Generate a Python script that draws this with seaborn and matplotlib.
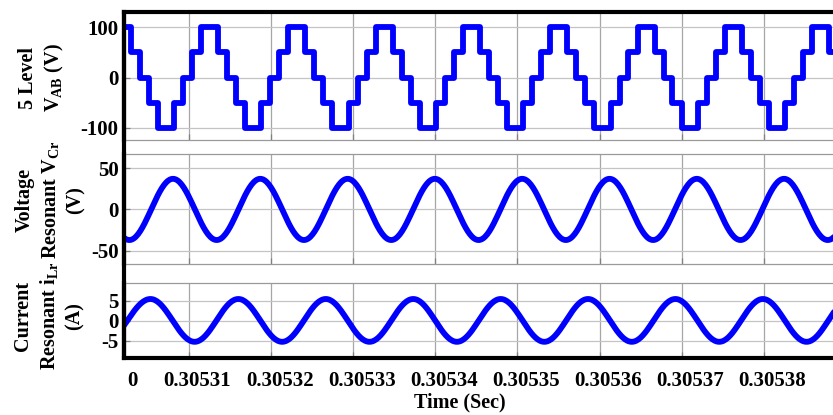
import numpy as np
import pandas as pd
import seaborn as sns
import matplotlib
matplotlib.use("Agg")
import matplotlib.pyplot as plt
from matplotlib.transforms import ScaledTranslation
from matplotlib.lines import Line2D

# ---------------- data (time in microseconds after 0.3053 s) ----------------
x_tick_pos = [2.08, 10, 20, 30, 40, 50, 60, 70, 80]
x_tick_labels = ["0", "0.30531", "0.30532", "0.30533", "0.30534",
                 "0.30535", "0.30536", "0.30537", "0.30538"]
x_limits = [2.08, 88.44]

# 5-level inverter voltage: switching instants and the level after each one
vab_times = [2.00, 2.90, 4.00, 5.09, 6.19,
             8.17, 9.27, 10.37, 11.46, 13.53, 14.63, 15.73, 16.82,
             18.81, 19.90, 21.00, 22.10, 24.17, 25.26, 26.36, 27.45,
             29.44, 30.54, 31.63, 32.73, 34.80, 35.90, 36.99, 38.09,
             40.07, 41.17, 42.27, 43.36, 45.43, 46.53, 47.63, 48.72,
             50.71, 51.80, 52.90, 54.00, 56.07, 57.16, 58.26, 59.35,
             61.34, 62.44, 63.53, 64.63, 66.70, 67.80, 68.89, 69.99,
             71.97, 73.07, 74.17, 75.26, 77.33, 78.43, 79.53, 80.62,
             82.61, 83.70, 84.80, 85.90, 87.97, 88.60]
vab_levels = [100, 50, 0, -50, -100,
              -50, 0, 50, 100, 50, 0, -50, -100,
              -50, 0, 50, 100, 50, 0, -50, -100,
              -50, 0, 50, 100, 50, 0, -50, -100,
              -50, 0, 50, 100, 50, 0, -50, -100,
              -50, 0, 50, 100, 50, 0, -50, -100,
              -50, 0, 50, 100, 50, 0, -50, -100,
              -50, 0, 50, 100, 50, 0, -50, -100,
              -50, 0, 50, 100, 50, 50]

# resonant capacitor voltage: peak / trough instants and values
vcr_ext_t = [-2.58, 2.73, 8.05, 13.37, 18.68, 24.00, 29.32, 34.63, 39.95,
             45.27, 50.58, 55.90, 61.22, 66.53, 71.85, 77.17, 82.48, 87.80, 93.12]
vcr_ext_v = [37, -37, 37, -37, 37, -37, 37, -37, 37,
             -37, 37, -37, 37, -37, 37, -37, 37, -37, 37]

# resonant inductor current: peak / trough instants and values
ilr_ext_t = [-0.30, 5.30, 10.68, 16.01, 21.34, 26.66, 31.98, 37.31, 42.63,
             47.96, 53.28, 58.60, 63.93, 69.25, 74.58, 79.90, 85.22, 90.54]
ilr_ext_v = [-5.2, 5.5, -5.2, 5.5, -5.2, 5.5, -5.2, 5.5, -5.2,
             5.5, -5.2, 5.5, -5.2, 5.5, -5.2, 5.5, -5.2, 5.5]

panel_yticks = [[-100, 0, 100], [-50, 0, 50], [-5, 0, 5]]
panel_ylims = [(-124, 130), (-66, 67), (-9.25, 9.5)]
panel_labels = ["5 Level\nV$_{AB}$ (V)",
                "Voltage\nResonant V$_{Cr}$\n(V)",
                "Current\nResonant i$_{Lr}$\n(A)"]


def half_cosine_trace(ts, vs, n=40):
    xs, ys = [], []
    for i in range(len(ts) - 1):
        s = np.linspace(0, 1, n, endpoint=False)
        xs.append(ts[i] + s * (ts[i + 1] - ts[i]))
        ys.append(vs[i] + (vs[i + 1] - vs[i]) * (1 - np.cos(np.pi * s)) / 2)
    xs.append([ts[-1]])
    ys.append([vs[-1]])
    return np.concatenate(xs), np.concatenate(ys)


# ---------------- style ----------------
sns.set_style("white")
plt.rcParams["font.family"] = ["Liberation Serif", "DejaVu Serif"]
plt.rcParams["font.weight"] = "bold"
plt.rcParams["mathtext.fontset"] = "custom"
plt.rcParams["mathtext.rm"] = "Liberation Serif:bold"
plt.rcParams["mathtext.it"] = "Liberation Serif:italic:bold"
plt.rcParams["mathtext.bf"] = "Liberation Serif:bold"
plt.rcParams["mathtext.default"] = "rm"
plt.rcParams["axes.unicode_minus"] = False

W, H = 833, 415
fig = plt.figure(figsize=(W / 100, H / 100), dpi=100)

left_px, right_px = 124, 833
panels_px = [(12, 140), (154, 264), (283, 358)]
axes = []
for top, bot in panels_px:
    ax = fig.add_axes([left_px / W, 1 - bot / H, (right_px - left_px) / W, (bot - top) / H])
    axes.append(ax)

blue = "#0000FF"
lw = 4.2

df_vab = pd.DataFrame({"t": vab_times, "v": vab_levels})
sns.lineplot(data=df_vab, x="t", y="v", ax=axes[0], color=blue, lw=lw,
             drawstyle="steps-post", sort=False, estimator=None)

xv, yv = half_cosine_trace(vcr_ext_t, vcr_ext_v)
sns.lineplot(x=xv, y=yv, ax=axes[1], color=blue, lw=lw, sort=False, estimator=None)

xi, yi = half_cosine_trace(ilr_ext_t, ilr_ext_v)
sns.lineplot(x=xi, y=yi, ax=axes[2], color=blue, lw=lw, sort=False, estimator=None)

for i, ax in enumerate(axes):
    ax.set_xlim(*x_limits)
    ax.set_ylim(*panel_ylims[i])
    ax.set_xticks(x_tick_pos)
    ax.set_yticks(panel_yticks[i])
    ax.set_yticklabels([str(v) for v in panel_yticks[i]])
    ax.set_xlabel("")
    ax.set_ylabel("")
    ax.grid(True, axis="y", color="#c4c4c4", lw=0.9)
    ax.grid(True, axis="x", color="#a6a6a6", lw=0.9)
    ax.set_axisbelow(True)
    ax.tick_params(axis="both", direction="in", length=4, width=0.9,
                   color="#808080", labelsize=15, labelcolor="black",
                   pad=4, bottom=True, left=True)
    for sp in ["top", "bottom"]:
        ax.spines[sp].set_color("#9a9a9a")
        ax.spines[sp].set_linewidth(0.9)
    ax.spines["right"].set_visible(False)
    ax.spines["left"].set_color("black")
    ax.spines["left"].set_linewidth(3)
    if i < 2:
        ax.set_xticklabels([])
    else:
        ax.tick_params(axis="x", pad=9)
        ax.set_xticklabels(x_tick_labels)

axes[0].spines["top"].set_color("black")
axes[0].spines["top"].set_linewidth(3)
axes[2].spines["bottom"].set_color("black")
axes[2].spines["bottom"].set_linewidth(3)

# tick labels in the reference sit a little right of their grid lines
off = ScaledTranslation(8.5 / 100, 0, fig.dpi_scale_trans)
for tick in axes[2].xaxis.get_major_ticks():
    tick.label1.set_transform(tick.label1.get_transform() + off)

# continuous thick left border across the panel gaps
fig.add_artist(Line2D([left_px / W, left_px / W], [1 - 10 / H, 1 - 360 / H],
                      transform=fig.transFigure, color="black", lw=3,
                      solid_capstyle="butt"))

label_pos = [(42, 78), (50, 200), (49, 316)]
for (px, py), txt in zip(label_pos, panel_labels):
    fig.text(px / W, 1 - py / H, txt, rotation=90, ha="center", va="center",
             multialignment="center", fontsize=14.5, fontweight="bold",
             linespacing=1.3, color="black")

fig.text(460 / W, 1 - 402 / H, "Time (Sec)", ha="center", va="center",
         fontsize=14.5, fontweight="bold", color="black")

fig.savefig("out.png", dpi=100)
